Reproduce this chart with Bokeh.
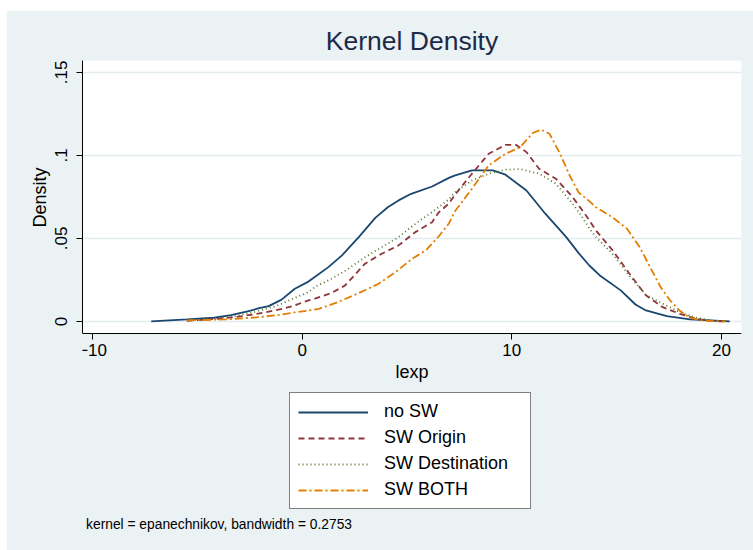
from bokeh.plotting import figure
from bokeh.models import Range1d, FixedTicker, Legend, LegendItem, Label, BoxAnnotation, Title
from bokeh.embed import file_html
from bokeh.resources import INLINE

# ---- data ----
no_sw_x = [-7.2, -5.5, -4.2, -3.4, -2.6, -2.1, -1.6, -1.0, -0.35, 0.3, 0.6, 1.25, 1.9, 2.7, 3.5,
           4.1, 4.6, 5.2, 6.2, 7.0, 7.3, 8.1, 9.1, 9.7, 10.7, 11.6, 12.6, 13.2, 13.7, 14.2, 15.2,
           15.9, 16.4, 17.4, 18.5, 20.4]
no_sw_y = [0.0, 0.0012, 0.0022, 0.0038, 0.006, 0.0078, 0.0092, 0.013, 0.0197, 0.024, 0.0267,
           0.0327, 0.0398, 0.0508, 0.0625, 0.0689, 0.0729, 0.0769, 0.0813, 0.0865, 0.088, 0.091,
           0.091, 0.0884, 0.0789, 0.0649, 0.0508, 0.041, 0.0337, 0.0277, 0.0187, 0.0102, 0.0066,
           0.0032, 0.0012, 0.0]

origin_x = [-5.5, -4.2, -3.2, -2.3, -1.3, -0.5, 0.3, 0.6, 1.4, 2.05, 3.0, 3.8, 4.6, 5.4, 6.2, 6.5,
            7.0, 7.3, 8.1, 8.9, 9.7, 10.2, 10.7, 11.3, 12.1, 12.9, 13.3, 13.7, 14.0, 14.8, 15.6,
            16.4, 17.2, 18.0, 18.8, 19.6, 20.2]
origin_y = [0.0004, 0.0014, 0.0026, 0.0042, 0.0066, 0.009, 0.0127, 0.0137, 0.0171, 0.0217, 0.0348,
            0.0408, 0.0458, 0.0538, 0.0598, 0.0655, 0.071, 0.0765, 0.089, 0.101, 0.1064, 0.1064,
            0.102, 0.092, 0.086, 0.075, 0.068, 0.061, 0.055, 0.043, 0.029, 0.0157, 0.0086, 0.0046,
            0.0016, 0.0002, 0.0]

dest_x = [-5.5, -4.2, -3.2, -2.3, -1.3, -0.5, 0.3, 0.6, 1.4, 2.2, 3.0, 3.8, 4.6, 5.4, 6.2, 7.0,
          7.3, 8.1, 8.9, 9.7, 10.4, 11.3, 12.1, 12.9, 13.3, 13.7, 14.0, 14.8, 15.6, 16.4, 17.2,
          18.0, 18.8, 19.8]
dest_y = [0.0005, 0.0018, 0.0032, 0.0056, 0.009, 0.0133, 0.0177, 0.0207, 0.0257, 0.0317, 0.0387,
          0.0448, 0.0508, 0.0588, 0.0659, 0.0735, 0.0779, 0.0849, 0.089, 0.0914, 0.0918, 0.089,
          0.083, 0.071, 0.064, 0.056, 0.051, 0.0408, 0.0277, 0.016, 0.0107, 0.0056, 0.0022, 0.0]

both_x = [-5.5, -3.7, -2.4, -1.15, -0.35, 0.3, 0.8, 1.7, 2.7, 3.65, 4.45, 5.25, 5.9, 6.5, 7.0,
          7.3, 8.1, 8.9, 9.7, 10.4, 11.0, 11.4, 11.8, 12.3, 12.8, 13.2, 13.7, 14.0, 14.8, 15.5,
          16.1, 16.6, 17.1, 17.55, 18.0, 18.5, 19.2, 20.2]
both_y = [0.0006, 0.0012, 0.0022, 0.0038, 0.0054, 0.0066, 0.0076, 0.0116, 0.0171, 0.0227, 0.0297,
          0.0378, 0.0428, 0.051, 0.059, 0.0665, 0.0799, 0.094, 0.101, 0.105, 0.1135, 0.1155,
          0.1131, 0.101, 0.0869, 0.0775, 0.0725, 0.0689, 0.0628, 0.0558, 0.0448, 0.0327, 0.0207,
          0.0127, 0.0066, 0.0022, 0.0003, 0.0]

series_names = ["no SW", "SW Origin", "SW Destination", "SW BOTH"]
x_ticks = [-10, 0, 10, 20]
y_ticks = [0, 0.05, 0.1, 0.15]
y_tick_labels = ["0", ".05", ".1", ".15"]
note_text = "kernel = epanechnikov, bandwidth = 0.2753"

FONT = "Liberation Sans"
BG = "#eaf2f3"

# plotting region in data units; the frame extends below it to hold legend and note
Y_LO, Y_HI = -0.0072, 0.1572
X_LO, X_HI = -10.48, 20.96

p = figure(width=747, height=540, output_backend="svg", toolbar_location=None,
           x_range=Range1d(X_LO, X_HI), y_range=Range1d(-0.132, Y_HI),
           min_border_left=76, min_border_right=12, min_border_top=50, min_border_bottom=10,
           border_fill_color=BG, background_fill_color=BG, outline_line_color=None)
p.margin = (10, 0, 0, 6)

# white plot area
p.add_layout(BoxAnnotation(bottom=Y_LO, top=Y_HI, fill_color="white", fill_alpha=1.0,
                           line_color=None, level="image"))

p.title.text = "Kernel Density"
p.title.align = "center"
p.title.text_font = FONT
p.title.text_font_size = "26.5px"
p.title.text_font_style = "normal"
p.title.text_color = "#1c2a48"

styles = [
    dict(line_color="#1a476f", line_dash="solid"),
    dict(line_color="#90353b", line_dash="6 4"),
    dict(line_color="#55752f", line_dash="1 3"),
    dict(line_color="#e37e00", line_dash="8 3 2 3"),
]
data = [(no_sw_x, no_sw_y), (origin_x, origin_y), (dest_x, dest_y), (both_x, both_y)]
renderers = []
for (xs, ys), st in zip(data, styles):
    renderers.append(p.line(xs, ys, line_width=1.8, **st))

# axes
p.xaxis.ticker = FixedTicker(ticks=x_ticks)
p.xaxis.fixed_location = Y_LO
p.yaxis.ticker = FixedTicker(ticks=y_ticks)
p.yaxis.bounds = (Y_LO, Y_HI)
p.yaxis.major_label_overrides = {t: l for t, l in zip(y_ticks, y_tick_labels)}
p.yaxis.major_label_orientation = "vertical"
for ax in (p.xaxis, p.yaxis):
    ax.axis_line_color = "black"
    ax.major_tick_line_color = "black"
    ax.minor_tick_line_color = None
    ax.major_tick_out = 6
    ax.major_tick_in = 0
    ax.major_label_text_font = FONT
    ax.major_label_text_font_size = "17px"
    ax.major_label_text_color = "black"
    ax.axis_label_text_font = FONT
    ax.axis_label_text_font_size = "18px"
    ax.axis_label_text_font_style = "normal"
    ax.axis_label_text_color = "black"
p.xaxis.axis_label = "lexp"
p.xaxis.major_label_standoff = 5
p.xaxis.axis_label_standoff = 2
p.yaxis.major_label_standoff = 9

# y-axis title placed beside the plotting region (not the whole frame)
p.add_layout(Title(text="Density", align="right", offset=107, standoff=6,
                   text_font=FONT, text_font_size="18px", text_font_style="normal",
                   text_color="black"), "left")

p.xgrid.visible = False
p.ygrid.ticker = FixedTicker(ticks=y_ticks)
p.ygrid.grid_line_color = "#e3ecef"
p.ygrid.grid_line_width = 1.5

legend = Legend(items=[LegendItem(label=n, renderers=[r]) for n, r in zip(series_names, renderers)],
                location=(207, 31), orientation="vertical",
                border_line_color="black", border_line_width=1,
                background_fill_color="white", background_fill_alpha=1.0,
                label_text_font=FONT, label_text_font_size="18px", label_text_color="black",
                glyph_width=70, glyph_height=20, label_height=20, label_width=138,
                label_standoff=16, spacing=5, padding=8, margin=0)
p.add_layout(legend, "center")

p.add_layout(Label(x=-10.31, y=-0.1223, text=note_text,
                   text_font=FONT, text_font_size="13.8px", text_color="black",
                   text_baseline="middle", text_align="left"))

open("out.html", "w").write(file_html(p, INLINE))
